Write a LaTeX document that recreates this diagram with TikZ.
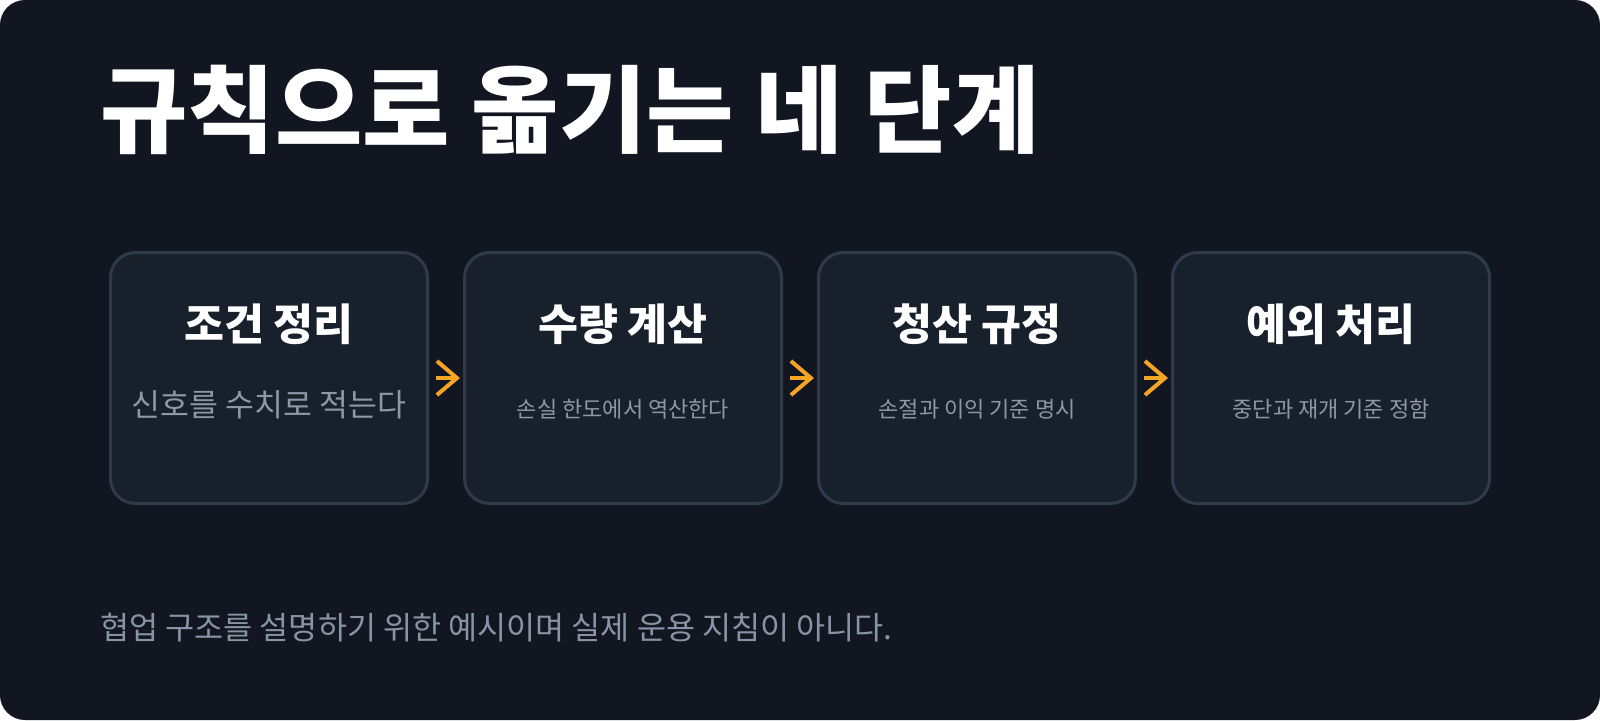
\documentclass[tikz,border=0pt]{standalone}
\usepackage{fontspec}
\setmainfont{Noto Sans CJK KR}
\usetikzlibrary{positioning,arrows.meta}
\definecolor{pagebg}{HTML}{111620}
\definecolor{boxfill}{HTML}{18202C}
\definecolor{boxline}{HTML}{2F3A4A}
\definecolor{subgray}{HTML}{8E97A6}
\definecolor{footgray}{HTML}{8A93A3}
\definecolor{flow}{HTML}{F5A524}

\begin{document}
\begin{tikzpicture}[x=0.5pt,y=-0.5pt,node distance=17pt,
  stage/.style={draw=boxline,fill=boxfill,line width=1.5pt,rounded corners=12.5pt,minimum width=158.5pt,minimum height=125.5pt},
  head/.style={text=white,inner sep=0pt,font=\bfseries\fontsize{21.7}{26}\selectfont},
  note/.style={text=subgray,inner sep=0pt,font=\fontsize{11}{13}\selectfont},
  link/.style={-{Straight Barb[length=10pt,width=17pt]},draw=flow,line width=2pt,shorten <=3.5pt,shorten >=1.5pt}]
  % page
  \fill[white] (0,0) rectangle (1600,720);
  \fill[pagebg,rounded corners=12.5pt] (0,0) rectangle (1600,720);
  \useasboundingbox (0,0) rectangle (1600,720);
  \node[anchor=west,inner sep=0pt,text=white,font=\bfseries\fontsize{47.5}{56}\selectfont] (title) at (100,110) {규칙으로 옮기는 네 단계};
  % stages
  \node[stage] (cond) at (269,378) {};
  \node[stage] (size) [right=of cond] {};
  \node[stage] (exit) [right=of size] {};
  \node[stage] (except) [right=of exit] {};
  \node[head] (cond-t) at ([yshift=-36.75pt]cond.north) {조건 정리};
  \node[head] (size-t) at ([yshift=-36.75pt]size.north) {수량 계산};
  \node[head] (exit-t) at ([yshift=-36.75pt]exit.north) {청산 규정};
  \node[head] (except-t) at ([yshift=-36.75pt]except.north) {예외 처리};
  \node[note,font=\fontsize{15.7}{19}\selectfont] (cond-n) at ([yshift=-77pt]cond.north) {신호를 수치로 적는다};
  \node[note] (size-n) at ([yshift=-79pt]size.north) {손실 한도에서 역산한다};
  \node[note] (exit-n) at ([yshift=-79pt]exit.north) {손절과 이익 기준 명시};
  \node[note] (except-n) at ([yshift=-79pt]except.north) {중단과 재개 기준 정함};
  \draw[link] (cond) -- (size);
  \draw[link] (size) -- (exit);
  \draw[link] (exit) -- (except);
  % footer
  \node[anchor=west,inner sep=0pt,text=footgray,font=\fontsize{15.8}{19}\selectfont] (foot) at (100,628) {협업 구조를 설명하기 위한 예시이며 실제 운용 지침이 아니다.};
\end{tikzpicture}
\end{document}
